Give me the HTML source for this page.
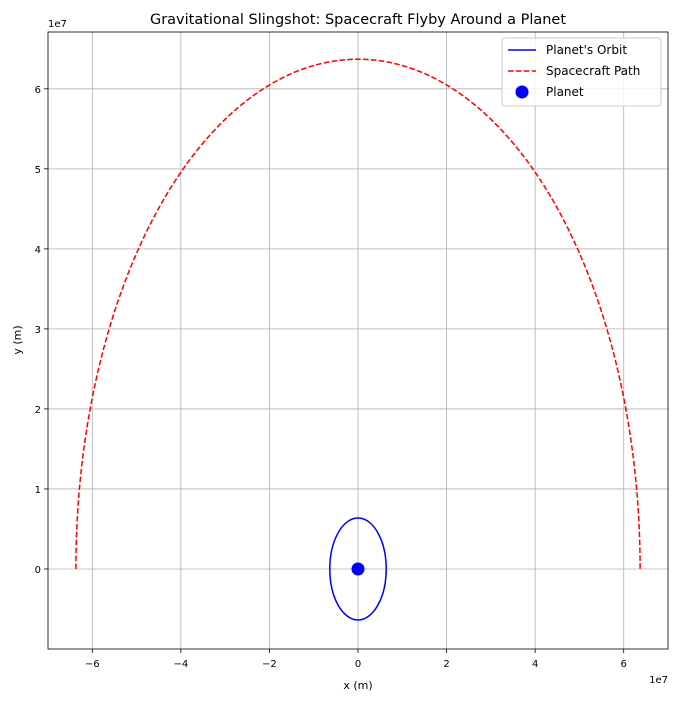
<!DOCTYPE html>
<html><head><meta charset="utf-8"><style>
body{margin:0;background:#fff;font-family:"Liberation Sans","DejaVu Sans",sans-serif}
svg text{font-family:"DejaVu Sans","Liberation Sans",sans-serif}
</style></head><body>
<svg id="c" width="678" height="701" xmlns="http://www.w3.org/2000/svg"></svg>
<script>
const xTicks=[-6,-4,-2,0,2,4,6];
const yTicks=[0,1,2,3,4,5,6];
const pathRadius=[6.37e7];
const orbitRadius=[6.37e6];
const planetPos=[0,0];
const NS='http://www.w3.org/2000/svg';
const L=48,R=668,T=32,B=649;
const xMin=-7.0e7,xMax=7.0e7,yMin=-1.0e7,yMax=6.71e7;
const sx=v=>L+(v-xMin)/(xMax-xMin)*(R-L);
const sy=v=>B-(v-yMin)/(yMax-yMin)*(B-T);
const svg=document.getElementById('c');
function mk(t,a,p){const e=document.createElementNS(NS,t);for(const k in a)e.setAttribute(k,a[k]);(p||svg).appendChild(e);return e;}
const grid=mk('g',{});


xTicks.forEach(t=>{const x=sx(t*1e7);
mk('line',{x1:x,x2:x,y1:T,y2:B,stroke:'#b0b0b0','stroke-width':0.8},grid);
mk('line',{x1:x,x2:x,y1:B,y2:B+4,stroke:'#000','stroke-width':0.8});
const tx=mk('text',{x:x,y:B+18,'text-anchor':'middle','font-size':10});tx.textContent=(t<0?'\u2212':'')+Math.abs(t);

});
yTicks.forEach(t=>{const y=sy(t*1e7);
mk('line',{x1:L,x2:R,y1:y,y2:y,stroke:'#b0b0b0','stroke-width':0.8},grid);
mk('line',{x1:L-4,x2:L,y1:y,y2:y,stroke:'#000','stroke-width':0.8});
const tx=mk('text',{x:L-7,y:y+4,'text-anchor':'end','font-size':10});tx.textContent=t;

});
// orbit
const r=orbitRadius[0];
const orb=mk('ellipse',{cx:sx(planetPos[0]),cy:sy(planetPos[1]),rx:sx(r)-sx(0),ry:sy(0)-sy(r),fill:'none',stroke:'#0000ff','stroke-width':1.5});


// path
const pr=pathRadius[0];let d='';
for(let i=0;i<=200;i++){const a=Math.PI*i/200;const px=-pr*Math.cos(a),py=pr*Math.sin(a);d+=(i?'L':'M')+sx(px).toFixed(2)+','+sy(py).toFixed(2);}
const p=mk('path',{d:d,fill:'none',stroke:'#ff0000','stroke-width':1.5,'stroke-dasharray':'5.5,2.4'});


const pl=mk('circle',{cx:sx(planetPos[0]),cy:sy(planetPos[1]),r:6.5,fill:'#0000ff'});


const ax=mk('rect',{x:L,y:T,width:R-L,height:B-T,fill:'none',stroke:'#000','stroke-width':0.8});


function txt(s,a,n){const e=mk('text',a);e.textContent=s;return e;}
txt('Gravitational Slingshot: Spacecraft Flyby Around a Planet',{x:358,y:24,'text-anchor':'middle','font-size':14.5},'chart-title');
txt('x (m)',{x:358,y:689,'text-anchor':'middle','font-size':11},'x-axis-title');
txt('y (m)',{x:21,y:340,'text-anchor':'middle','font-size':11,transform:'rotate(-90 21 340)'},'y-axis-title');
txt('1e7',{x:668,y:683,'text-anchor':'end','font-size':10},'x-offset');
txt('1e7',{x:48,y:27,'font-size':10},'y-offset');
// legend
const lg=mk('g',{});


mk('rect',{x:502,y:38,width:159,height:68,rx:3,fill:'#fff','fill-opacity':0.8,stroke:'#ccc'},lg);
mk('line',{x1:508,x2:536,y1:50,y2:50,stroke:'#0000ff','stroke-width':1.5},lg);
mk('line',{x1:508,x2:536,y1:71,y2:71,stroke:'#ff0000','stroke-width':1.5,'stroke-dasharray':'5.5,2.4'},lg);
mk('circle',{cx:522,cy:92,r:6.5,fill:'#0000ff'},lg);
[["Planet's Orbit",54],['Spacecraft Path',75],['Planet',96]].forEach(([s,y])=>{const e=mk('text',{x:546,y:y,'font-size':12},lg);e.textContent=s;

});
</script>
</body></html>
